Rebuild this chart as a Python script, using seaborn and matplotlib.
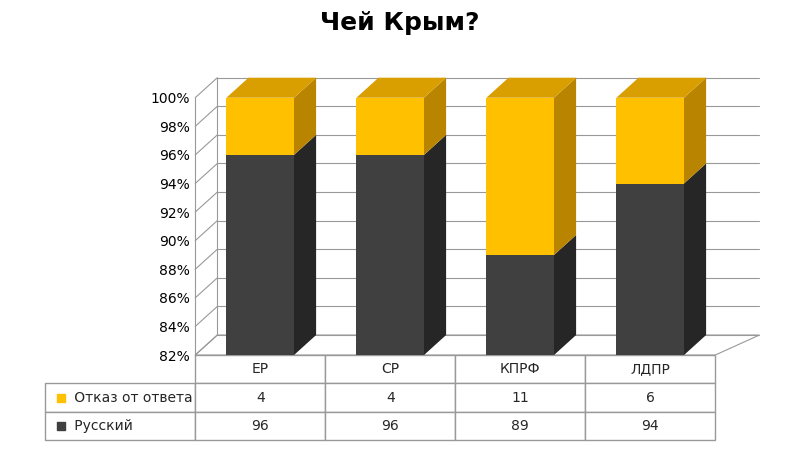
import matplotlib
matplotlib.use("Agg")
import matplotlib.pyplot as plt
import seaborn as sns
import pandas as pd
from matplotlib.patches import Polygon

parties = ["ЕР", "СР", "КПРФ", "ЛДПР"]
otkaz = [4, 4, 11, 6]
russ = [96, 96, 89, 94]
yticks = [82, 84, 86, 88, 90, 92, 94, 96, 98, 100]
series_names = ["Отказ от ответа", "Русский"]

YEL, YEL_S, YEL_T = "#FFC000", "#B98500", "#D99E00"
DRK, DRK_S, DRK_T = "#404040", "#262626", "#333333"

sns.set_theme(style="white")
plt.rcParams['font.family'] = ['DejaVu Sans']

df = pd.DataFrame({"party": parties, "russ": russ, "otkaz": otkaz})
df["total"] = df["russ"] + df["otkaz"]

fig = plt.figure(figsize=(8, 4.5), dpi=100)
ax = fig.add_axes([0.244, 0.211, 0.65, 0.629])
ymin, ymax = 82, 101.8
dx, dy = 0.17, 1.4
W = 0.52

x0, x1 = -0.5, 3.5
ax.add_patch(Polygon([(x0, ymin), (x1, ymin), (x1 + 2 * dx, ymin + dy), (x0 + dx, ymin + dy)],
                     closed=True, fc="white", ec="#999999", lw=0.8, clip_on=False, zorder=0))
for t in yticks:
    ax.plot([x0, x0 + dx], [t, t + dy], color="#999999", lw=0.8, clip_on=False, zorder=0)
    ax.plot([x0 + dx, x1 + 2 * dx], [t + dy, t + dy], color="#999999", lw=0.8, clip_on=False, zorder=0)
ax.plot([x0, x0], [ymin, 100], color="#999999", lw=0.8, clip_on=False)
ax.plot([x0 + dx, x0 + dx], [ymin + dy, 100 + dy], color="#999999", lw=0.8, clip_on=False)

sns.barplot(data=df, x="party", y="total", color=YEL, width=W, saturation=1, ax=ax,
            zorder=2, linewidth=0)
sns.barplot(data=df, x="party", y="russ", color=DRK, width=W, saturation=1, ax=ax,
            zorder=3, linewidth=0)

for i, (r, tot) in enumerate(zip(df["russ"], df["total"])):
    xr = i + W / 2
    xl = i - W / 2
    ax.add_patch(Polygon([(xr, ymin), (xr + dx, ymin + dy), (xr + dx, r + dy), (xr, r)],
                         fc=DRK_S, ec="none", zorder=3, clip_on=False))
    ax.add_patch(Polygon([(xr, r), (xr + dx, r + dy), (xr + dx, tot + dy), (xr, tot)],
                         fc=YEL_S, ec="none", zorder=3, clip_on=False))
    ax.add_patch(Polygon([(xl, tot), (xr, tot), (xr + dx, tot + dy), (xl + dx, tot + dy)],
                         fc=YEL_T, ec="none", zorder=3, clip_on=False))

ax.set_xlim(x0, x1)
ax.set_ylim(ymin, ymax)
ax.set_yticks(yticks)
ax.set_yticklabels([f"{t}%" for t in yticks], fontsize=10)
ax.set_xticks([])
ax.set_xlabel("")
ax.set_ylabel("")
for s in ax.spines.values():
    s.set_visible(False)
ax.tick_params(axis="y", length=0, pad=4, labelcolor="black")

lw = 150 / 520
cell = [[""] + parties,
        ["      " + series_names[0]] + [str(v) for v in otkaz],
        ["      " + series_names[1]] + [str(v) for v in russ]]
tb = ax.table(cellText=cell, cellLoc="center", colWidths=[lw, 0.25, 0.25, 0.25, 0.25],
              bbox=[-lw, -0.30, 1 + lw, 0.30])
tb.auto_set_font_size(False)
tb.set_fontsize(10)
for (r, c), cl in tb.get_celld().items():
    cl.set_edgecolor("#999999")
    if c == 0:
        cl.get_text().set_ha("left")
        cl.PAD = 0.02
    if r == 0 and c == 0:
        cl.visible_edges = ""
for k, col in enumerate([YEL, DRK]):
    ax.scatter([-lw + 0.03], [-0.30 + 0.1 * (1.5 - k)], marker="s", s=40, color=col,
               transform=ax.transAxes, clip_on=False, zorder=5)

fig.suptitle("Чей Крым?", fontsize=18, fontweight="bold", y=0.975, color="black")
fig.savefig("out.png", dpi=100)
